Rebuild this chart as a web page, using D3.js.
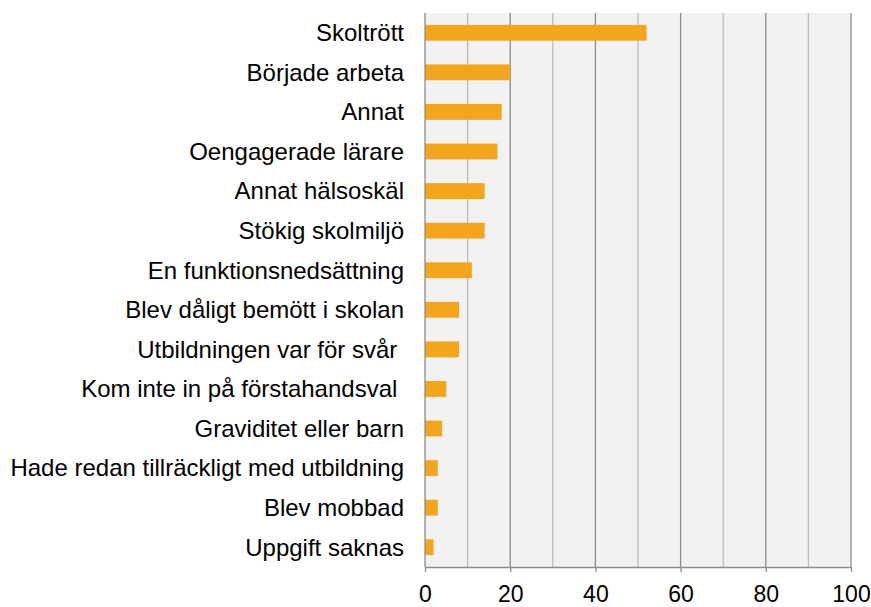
<!DOCTYPE html>
<meta charset="utf-8">
<style>
body { margin: 0; background: #fff; }
text { font-family: "Liberation Sans", Arial, sans-serif; fill: #000; }
</style>
<svg width="871" height="607"></svg>
<script src="https://d3js.org/d3.v7.min.js"></script>
<script>

var categories = ["Skoltrött", "Började arbeta", "Annat", "Oengagerade lärare", "Annat hälsoskäl",
  "Stökig skolmiljö", "En funktionsnedsättning", "Blev dåligt bemött i skolan", "Utbildningen var för svår ",
  "Kom inte in på förstahandsval ", "Graviditet eller barn", "Hade redan tillräckligt med utbildning",
  "Blev mobbad", "Uppgift saknas"];
var values = [52, 20, 18, 17, 14, 14, 11, 8, 8, 5, 4, 3, 3, 2];
var xTicks = [0, 20, 40, 60, 80, 100];

var svg = d3.select("svg"),
    margin = {top: 13, right: 20, bottom: 40, left: 425},
    width = 851 - margin.left,
    height = 567 - margin.top;

var g = svg.append("g").attr("transform", "translate(" + margin.left + "," + margin.top + ")");

var x = d3.scaleLinear().domain([0, 100]).range([0, width]);
var y = d3.scaleBand().domain(categories).range([0, height]).paddingInner(0.6).paddingOuter(0.3);

g.append("rect")
    .attr("width", width)
    .attr("height", height)
    .attr("fill", "#f2f2f2");

// gridlines, darker at every 20
g.selectAll(".grid")
    .data(d3.range(10, 101, 10))
  .enter().append("line")
    .attr("x1", function(d) { return x(d); })
    .attr("x2", function(d) { return x(d); })
    .attr("y1", 0)
    .attr("y2", height)
    .attr("stroke", function(d) { return d % 20 == 0 ? "#8c8c8c" : "#bcbcbc"; })
    .attr("stroke-width", 1.3);

g.selectAll(".bar")
    .data(values)
  .enter().append("rect")
    .attr("x", 0)
    .attr("y", function(d, i) { return y(categories[i]); })
    .attr("width", function(d) { return x(d); })
    .attr("height", y.bandwidth())
    .attr("fill", "#f5a51c");

// left axis line
g.append("line")
    .attr("x1", 0).attr("x2", 0)
    .attr("y1", 0).attr("y2", height)
    .attr("stroke", "#8c8c8c")
    .attr("stroke-width", 1.3);

var xAxis = g.append("g")
    .attr("transform", "translate(0," + height + ")")
    .call(d3.axisBottom(x).tickValues(xTicks).tickSize(5).tickSizeOuter(0).tickPadding(14));
xAxis.select(".domain").attr("stroke", "#8c8c8c").attr("stroke-width", 1.3);
xAxis.selectAll(".tick line").attr("stroke", "#8c8c8c").attr("stroke-width", 1.3);
xAxis.selectAll("text").style("font-size", "23px").attr("fill", "#000");

g.selectAll(".label")
    .data(categories)
  .enter().append("text")
    .attr("x", -21)
    .attr("y", function(d) { return y(d) + y.bandwidth() / 2; })
    .attr("dy", "0.35em")
    .attr("text-anchor", "end")
    .style("font-size", "24px")
    .style("white-space", "pre")
    .text(function(d) { return d; });

</script>
